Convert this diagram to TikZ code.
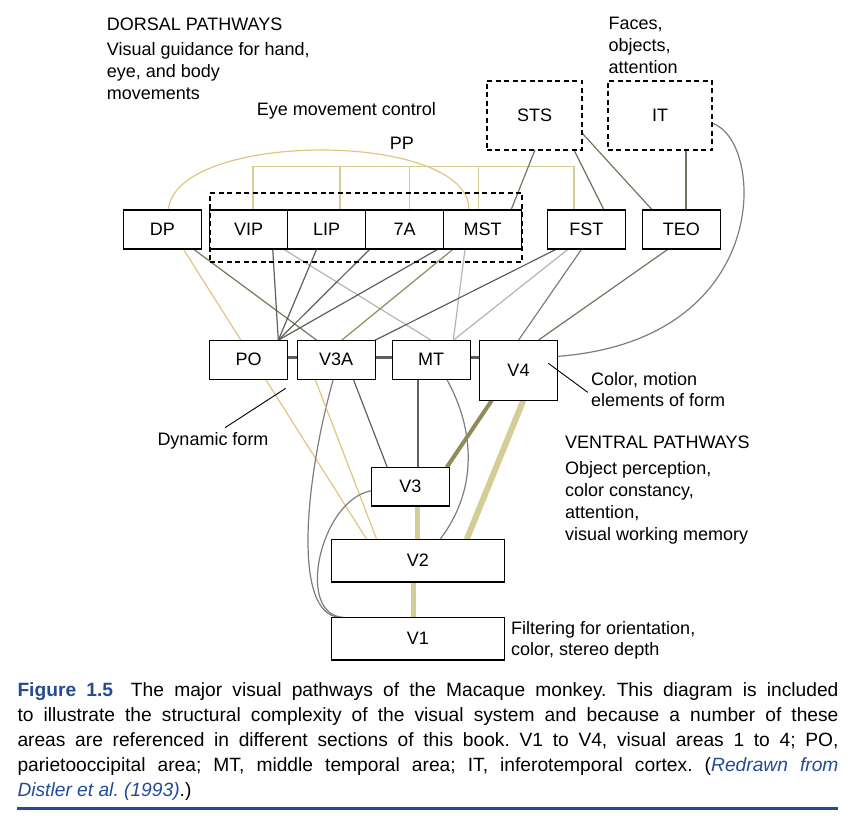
\documentclass[tikz,border=0pt]{standalone}
\usepackage{fontspec}
\setmainfont{Liberation Sans}
\usetikzlibrary{positioning,backgrounds}

\definecolor{pathtan}{RGB}{226,196,128}
\definecolor{ppkhaki}{RGB}{212,206,150}
\definecolor{patholive}{RGB}{145,138,90}
\definecolor{dpolive}{RGB}{120,120,92}
\definecolor{darkgrey}{RGB}{95,95,95}
\definecolor{midgrey}{RGB}{125,125,125}
\definecolor{lightgrey}{RGB}{180,180,180}
\definecolor{sage}{RGB}{105,120,95}
\definecolor{capblue}{RGB}{35,75,150}

\begin{document}
\begin{tikzpicture}[x=1pt, y=-1pt,
    every node/.style = {font=\fontsize{18}{22}\selectfont, text=black},
    area/.style = {draw, line width=1.2pt, fill=white, outer sep=0pt,
      inner sep=0pt, minimum width=78pt, minimum height=39pt},
    group/.style = {draw, line width=2pt, dash pattern=on 5pt off 3.5pt,
      outer sep=0pt, inner sep=0pt},
    note/.style = {anchor=base west, align=left, inner sep=0pt},
    link/.style = {line width=1.2pt},
    pointer/.style = {line width=0.9pt, draw=black}]
  \useasboundingbox (0,0) rectangle (853,820);

  % areas
  \node (DP)  [area] at (162.5,229.5) {DP};
  \node (VIP) [area] at (248.7,229.5) {VIP};
  \node (LIP) [area, right = 0pt of VIP] {LIP};
  \node (a7)  [area, right = 0pt of LIP] {7A};
  \node (MST) [area, right = 0pt of a7] {MST};
  \node (FST) [area] at (586.3,229.5) {FST};
  \node (TEO) [area, right = 17pt of FST] {TEO};
  \node (ppgroup) [group, minimum width=312.6pt, minimum height=69pt] at (366,227.2) {};
  \node (STS) [group, minimum width=95.6pt, minimum height=69.3pt] at (534.5,115.3) {STS};
  \node (IT)  [group, minimum width=104.6pt, minimum height=69.3pt] at (660,115.3) {IT};

  \node (PO)  [area] at (248.7,359.7) {PO};
  \node (V3A) [area, right = 9.4pt of PO] {V3A};
  \node (MT)  [area, right = 17pt of V3A] {MT};
  \node (V4)  [area, right = 9.4pt of MT.north east, anchor=north west,
               minimum height=60.3pt] {V4};
  \node (V3)  [area, minimum height=38.7pt] at (410.3,486.7) {V3};
  \node (V2)  [area, minimum width=173pt, minimum height=42.7pt] at (417.8,560.7) {V2};
  \node (V1)  [area, minimum width=173pt, minimum height=42.7pt, below = 35.3pt of V2] {V1};

  % notes (multi-line ones sit on their last baseline)
  \node (dorsal) [note] at (106.7,30) {DORSAL PATHWAYS};
  \node (dorsaltext) [note] at (106.7,99.5) {Visual guidance for hand,\\eye, and body\\movements};
  \node (eyectl) [note] at (256.7,115) {Eye movement control};
  \node (pplabel) [note] at (389.7,149) {PP};
  \node (faces) [note] at (608.3,73) {Faces,\\objects,\\attention};
  \node (colnote) [note, font=\fontsize{18}{21.7}\selectfont] at (591,406.7) {Color, motion\\elements of form};
  \node (ventral) [note] at (565,448.3) {VENTRAL PATHWAYS};
  \node (ventraltext) [note, font=\fontsize{18}{21.7}\selectfont] at (565,540)
    {Object perception,\\color constancy,\\attention,\\visual working memory};
  \node (dynform) [note] at (157.3,445) {Dynamic form};
  \node (filtnote) [note, font=\fontsize{18}{20.7}\selectfont] at (511,655)
    {Filtering for orientation,\\color, stereo depth};

  \coordinate (v4pt) at (548.3,363.3);
  \coordinate (v4tip) at (587.7,392.3);
  \coordinate (dynpt) at (285.7,388.3);
  \coordinate (dyntip) at (225,427.7);
  \draw[pointer] (v4pt) -- (v4tip);
  \draw[pointer] (dynpt) -- (dyntip);

  \begin{scope}[on background layer]
    % PP bracket and arc
    \coordinate (ppbar) at (400,166.7);
    \draw[link, ppkhaki] ([xshift=4.3pt]VIP.north) |- (ppbar) -| ([xshift=-12.3pt]FST.north);
    \foreach \n/\dx in {LIP/13.3, a7/4.6, MST/-4.4}
      \draw[link, ppkhaki] ([xshift=\dx pt]\n.north) -- ([xshift=\dx pt]\n.north |- ppbar);
    \draw[link, pathtan] ([xshift=5.8pt]DP.north) .. controls (175,130) and (470,130) .. ([xshift=-13.7pt]MST.north);

    % top row to middle row
    \coordinate (pohub) at ([xshift=29.6pt]PO.north);
    \draw[link, pathtan] ([xshift=20.8pt]DP.south) -- ([xshift=-51.1pt]V2.north);
    \draw[link, dpolive] ([xshift=30.8pt]DP.south) -- ([xshift=-19.4pt]V3A.north);
    \draw[link, darkgrey] ([xshift=24pt]VIP.south) -- (pohub);
    \draw[link, lightgrey] ([xshift=34.6pt]VIP.south) -- (MT.north);
    \draw[link, darkgrey] ([xshift=-10pt]LIP.south) -- (pohub);
    \draw[link, darkgrey] ([xshift=-34.7pt]a7.south) -- (pohub);
    \draw[link, darkgrey] ([xshift=-44.4pt]MST.south) -- (pohub);
    \draw[link, patholive] ([xshift=-29.4pt]MST.south) -- ([xshift=5.6pt]V3A.north);
    \draw[link, lightgrey] ([xshift=-17.7pt]MST.south) -- ([xshift=22.2pt]MT.north);
    \draw[link, darkgrey] ([xshift=-29.6pt]FST.south) -- (V3A.north east);
    \draw[link, lightgrey] ([xshift=-18pt]FST.south) -- ([xshift=22.2pt]MT.north);
    \draw[link, midgrey] ([xshift=-4.6pt]FST.south) -- (V4.north);
    \draw[link, sage] ([xshift=-13pt]TEO.south) -- ([xshift=19.8pt]V4.north);

    % STS and IT
    \draw[link, sage] ([xshift=0.5pt]STS.south) -- ([xshift=28.3pt]MST.north);
    \draw[link, sage] ([xshift=39.5pt]STS.south) -- ([xshift=17.7pt]FST.north);
    \draw[link, sage] ([yshift=-18pt]STS.east) -- ([xshift=-29pt]TEO.north);
    \draw[line width=2pt, sage] ([xshift=4.7pt]TEO.north) -- ([xshift=4.7pt]TEO.north |- IT.south);
    \draw[link, midgrey] ([yshift=-8pt]IT.east) .. controls (765,140) and (775,340) .. ([yshift=14pt]V4.east);

    % middle row
    \draw[line width=3pt, darkgrey] ([yshift=2.4pt]PO.east) -- ([yshift=2.4pt]PO.east -| V3A.west);
    \draw[line width=3pt, darkgrey] ([yshift=2.4pt]V3A.east) -- ([yshift=2.4pt]V3A.east -| MT.west);
    \draw[line width=3pt, darkgrey] ([yshift=2.4pt]MT.east) -- ([yshift=2.4pt]MT.east -| V4.west);

    % down to V3, V2, V1
    \draw[link, midgrey] ([xshift=-2.8pt]V3A.south) .. controls (305,480) and (292,615) .. ([xshift=-77.8pt]V1.north);
    \draw[link, pathtan] ([xshift=-21pt]V3A.south) -- ([xshift=-41.1pt]V2.north);
    \draw[link, darkgrey] ([xshift=17.2pt]V3A.south) -- ([xshift=-23pt]V3.north);
    \draw[line width=2pt, darkgrey] ([xshift=7.4pt]V3.north) -- ([xshift=7.4pt]V3.north |- MT.south);
    \draw[link, midgrey] ([xshift=15.6pt]MT.south) .. controls (475,430) and (478,490) .. ([xshift=22.2pt]V2.north);
    \draw[line width=4pt, patholive] ([xshift=-26.8pt]V4.south) -- ([xshift=36.4pt]V3.north);
    \draw[line width=6pt, ppkhaki] ([xshift=4.8pt]V4.south) -- ([xshift=48.9pt]V2.north);
    \draw[line width=5pt, ppkhaki] ([xshift=7.4pt]V3.south) -- ([xshift=7.4pt]V3.south |- V2.north);
    \draw[line width=5pt, ppkhaki] ([xshift=-4.5pt]V2.south) -- ([xshift=-4.5pt]V1.north);
    \draw[link, midgrey] ([yshift=-4pt]V3.west) .. controls (320,500) and (295,615) .. ([xshift=-74.5pt]V1.north);
  \end{scope}

  % caption
  \node (caption) [note, text width=821pt, align=justify, font=\fontsize{19.2}{25}\selectfont\frenchspacing]
    at (17.3,696.7)
    {\textcolor{capblue}{\textbf{Figure 1.5}}\hspace{0.4em} The major visual pathways of the Macaque monkey. This diagram is included\linebreak
     to illustrate the structural complexity of the visual system and because a number of these\linebreak
     areas are referenced in different sections of this book. V1 to V4, visual areas 1 to 4; PO,\linebreak
     parietooccipital area; MT, middle temporal area; IT, inferotemporal cortex. (\textcolor{capblue}{\itshape Redrawn from\linebreak
     Distler et al. (1993)}.)};
  \draw[capblue, line width=2.5pt] (17.3,808.3) -- (838,808.3);
\end{tikzpicture}
\end{document}
